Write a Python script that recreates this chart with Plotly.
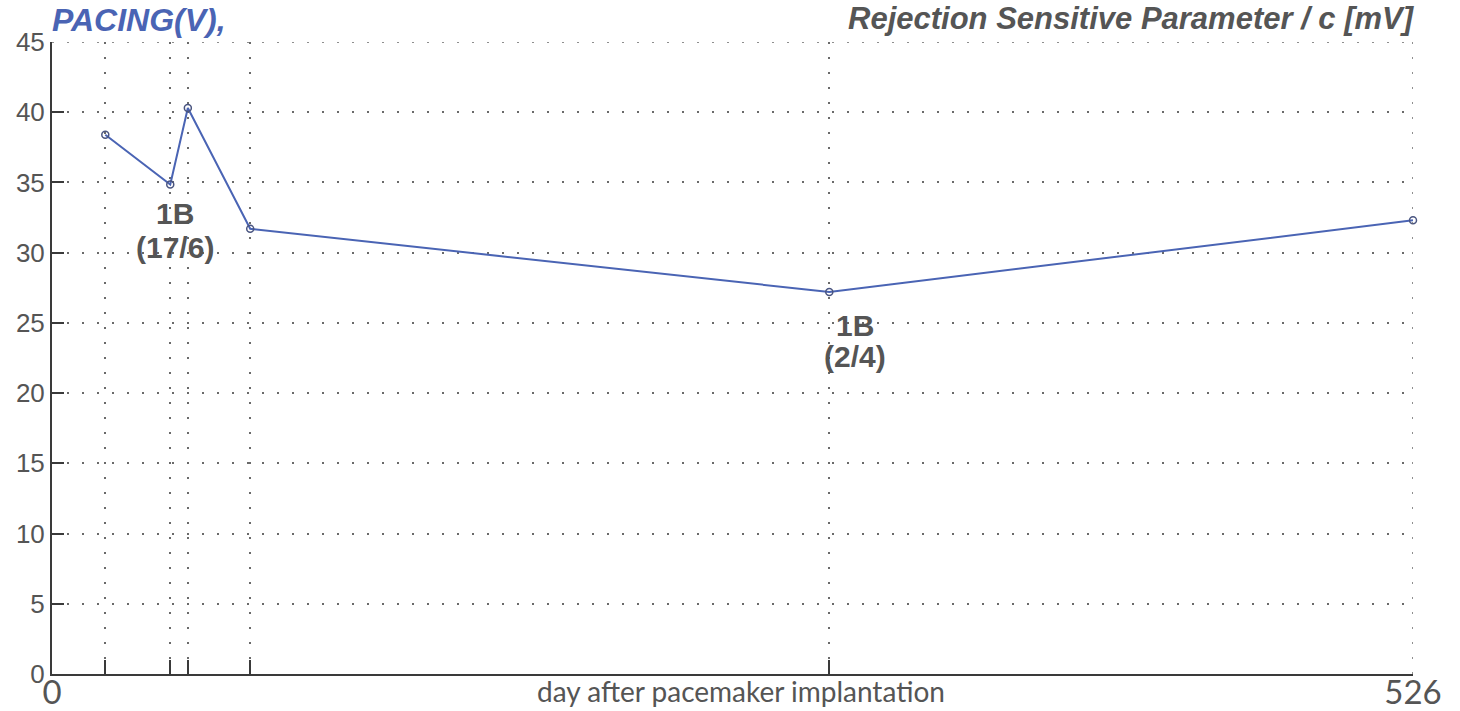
import plotly.graph_objects as go

days = [20.6, 45.7, 52.5, 76.6, 300.4, 526]
pacing = [38.4, 34.85, 40.3, 31.7, 27.2, 32.3]
y_ticks = [0, 5, 10, 15, 20, 25, 30, 35, 40, 45]
x_label_vals = [0, 526]
notes = [
    {"x": 47.6, "y": 32.8, "text": "<b>1B</b>"},
    {"x": 47.6, "y": 30.4, "text": "<b>(17/6)</b>"},
    {"x": 310.3, "y": 24.85, "text": "<b>1B</b>"},
    {"x": 310.3, "y": 22.6, "text": "<b>(2/4)</b>"},
]

GRAY = "#555555"
AXIS = "#3a3a3a"
GRID = "#6a6a6a"
BLUE = "#4a64b4"
GRID_DASH = "2px,13px"

fig = go.Figure()
fig.add_trace(go.Scatter(
    x=days, y=pacing, mode="lines+markers",
    line=dict(color=BLUE, width=2),
    marker=dict(symbol="circle-open", size=7, color="#4a5580", line=dict(width=1.5, color="#4a5580")),
    hoverinfo="skip", showlegend=False, cliponaxis=False,
))

xtickvals = x_label_vals + days[:-1]
xticktext = [str(v) for v in x_label_vals] + [""] * (len(days) - 1)

fig.update_layout(
    width=1460, height=711,
    margin=dict(l=52, r=47, t=42, b=37),
    paper_bgcolor="white", plot_bgcolor="white",
    font=dict(family="Liberation Sans, Arial", color=GRAY),
    xaxis=dict(
        range=[0, 526], tickvals=xtickvals, ticktext=xticktext,
        ticks="inside", ticklen=14, tickwidth=2, tickcolor=AXIS,
        showline=True, linecolor=AXIS, linewidth=2,
        showgrid=True, gridcolor=GRID, griddash=GRID_DASH, gridwidth=1.5,
        zeroline=False, tickfont=dict(family="Lato, Open Sans", size=33, color=GRAY),
        ticklabelstandoff=-12, automargin=False,
    ),
    yaxis=dict(
        range=[0, 45], tickvals=y_ticks,
        ticks="inside", ticklen=12, tickwidth=2, tickcolor=AXIS,
        showline=True, linecolor=AXIS, linewidth=2,
        showgrid=True, gridcolor=GRID, griddash=GRID_DASH, gridwidth=1.5,
        zeroline=False, tickfont=dict(family="Liberation Sans, Arial", size=26, color=GRAY),
        ticklabelstandoff=0, automargin=False,
    ),
)

# dotted borders on the top (45) and right (526)
fig.add_shape(type="line", xref="x", yref="y", x0=526, x1=526, y0=0, y1=45,
              line=dict(color=GRID, width=1.5, dash=GRID_DASH))
fig.add_shape(type="line", xref="x", yref="y", x0=0, x1=526, y0=45, y1=45,
              line=dict(color=GRID, width=1.5, dash=GRID_DASH))

for n in notes:
    fig.add_annotation(x=n["x"], y=n["y"], xref="x", yref="y", text=n["text"],
                       showarrow=False, font=dict(size=30, color=GRAY, family="Liberation Sans, Arial"))

fig.add_annotation(xref="paper", yref="paper", x=0.0, y=1.0, xanchor="left", yanchor="middle",
                   text="<b><i>PACING(V),</i></b>", showarrow=False, yshift=22, xshift=-2,
                   font=dict(size=32, color=BLUE, family="Liberation Sans, Arial"))
fig.add_annotation(xref="paper", yref="paper", x=1.0, y=1.0, xanchor="right", yanchor="middle",
                   text="<b><i>Rejection Sensitive Parameter / c [mV]</i></b>", showarrow=False, yshift=24, xshift=4,
                   font=dict(size=31, color=GRAY, family="Liberation Sans, Arial"))
fig.add_annotation(xref="paper", yref="paper", x=0.5, y=0, xanchor="center", yanchor="middle",
                   text="day after pacemaker implantation", showarrow=False, yshift=-17, xshift=8,
                   font=dict(size=28, color=GRAY, family="Lato, Open Sans"))

fig.write_html("out.html")
